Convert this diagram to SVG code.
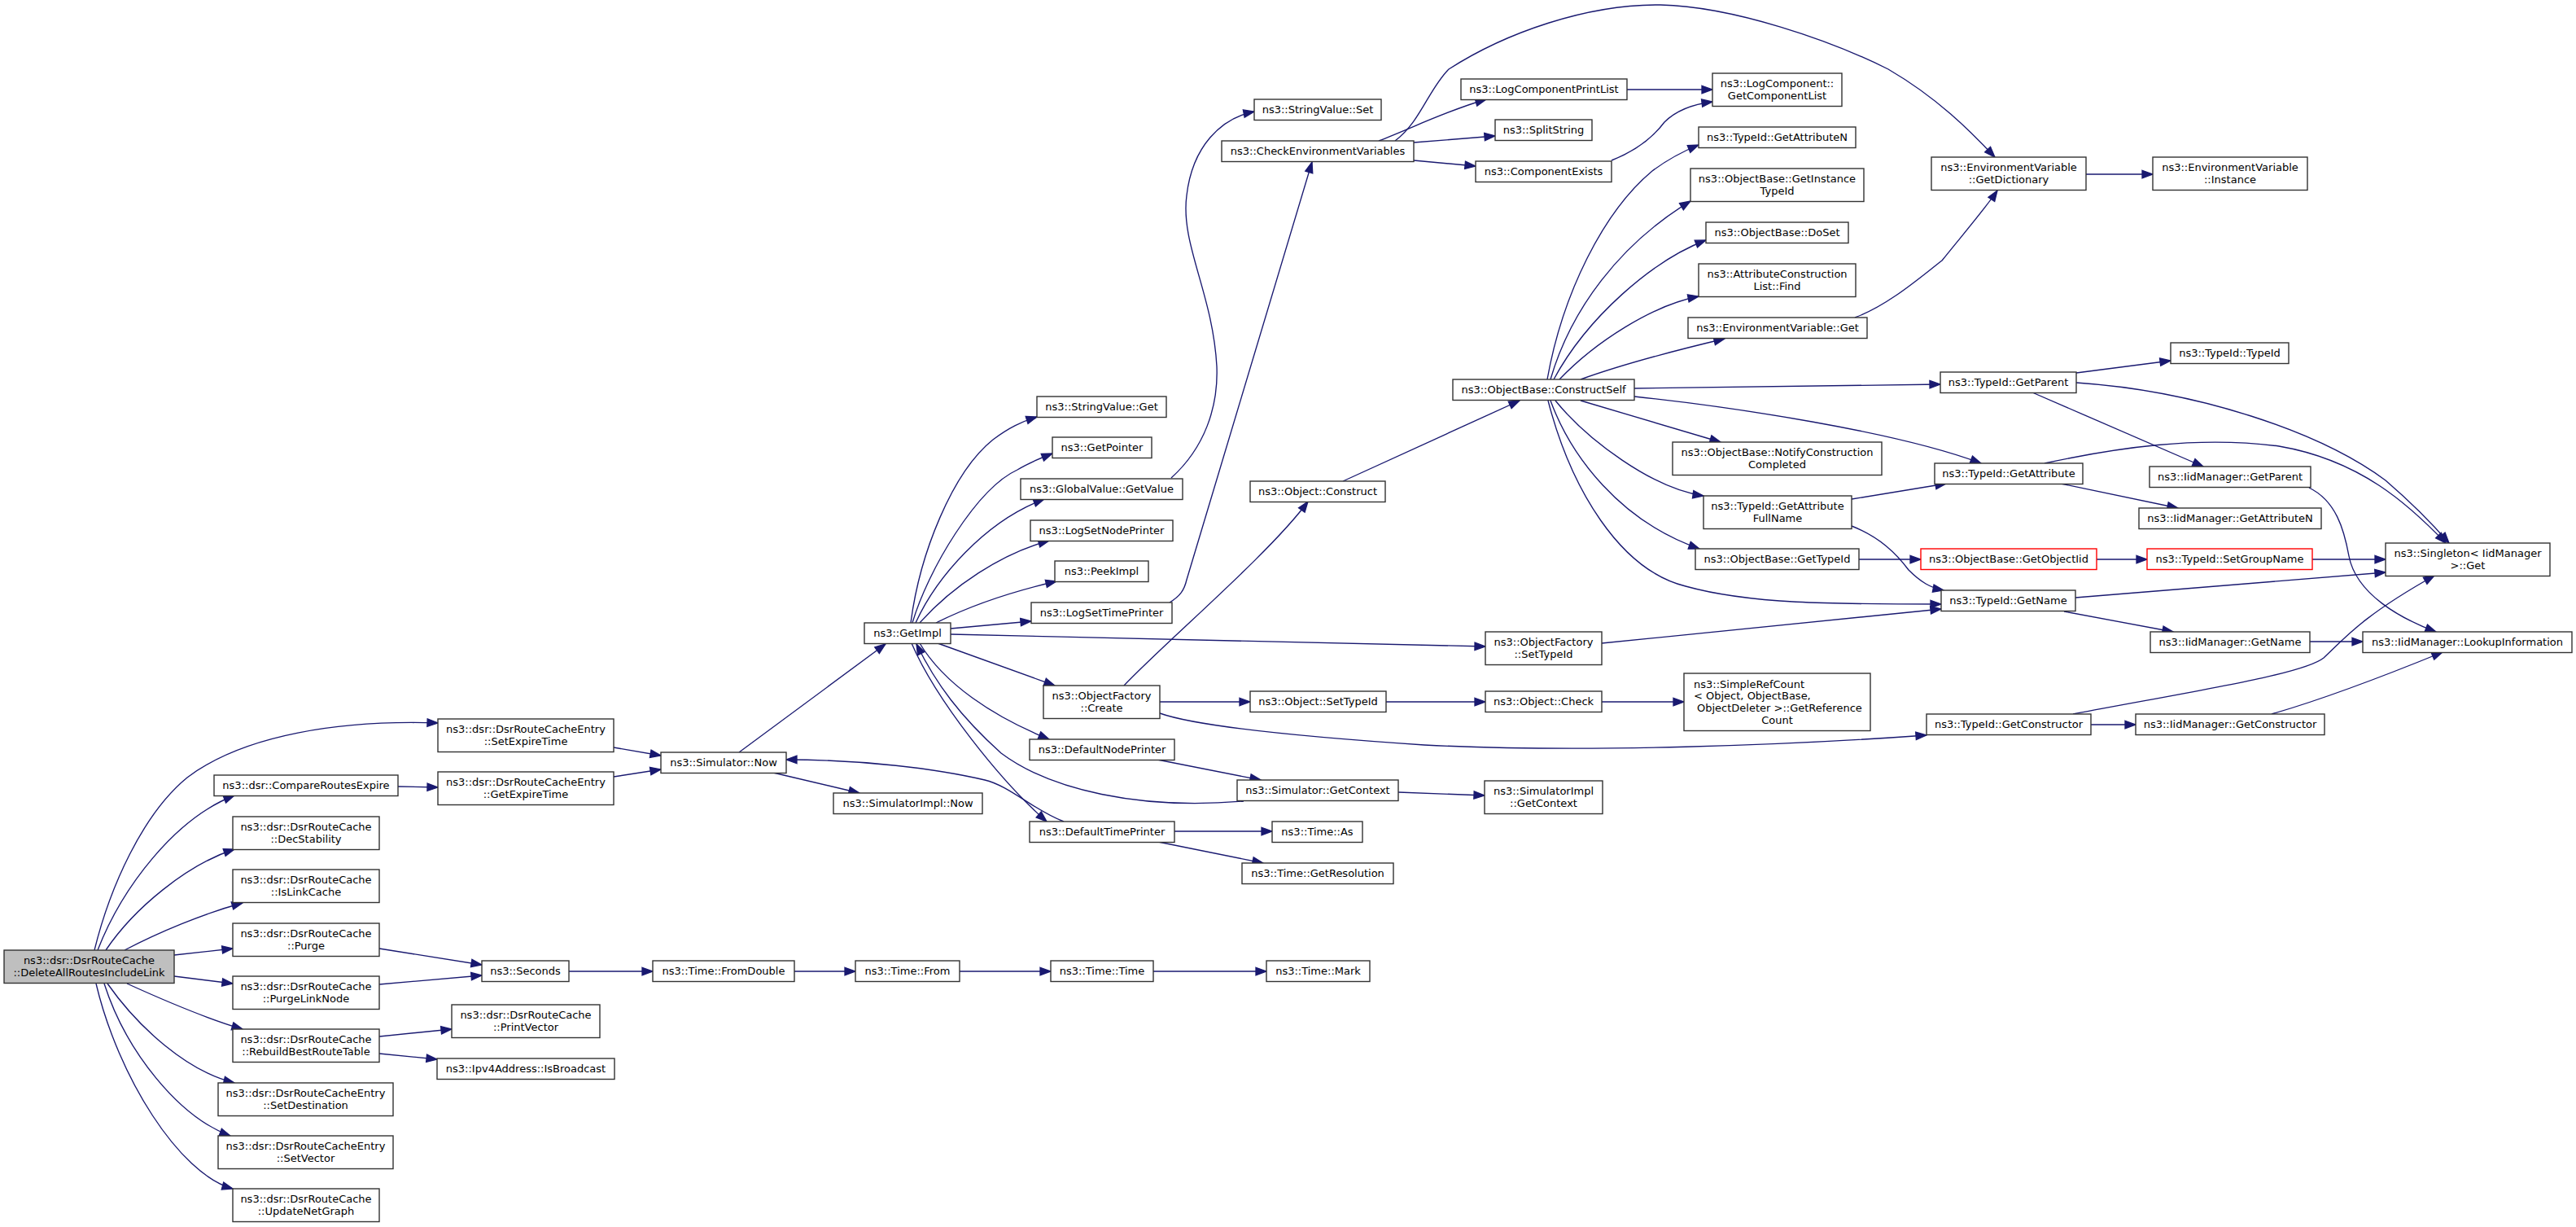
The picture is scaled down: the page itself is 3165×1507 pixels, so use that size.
<svg xmlns="http://www.w3.org/2000/svg" width="3165" height="1507" viewBox="0 0 3165 1507">
<style>
.n rect{fill:#ffffff;stroke:#333333;stroke-width:1.4}
.src rect{fill:#bfbfbf}
.red rect{stroke:#ff0000}
text{font-family:"DejaVu Sans","Liberation Sans",sans-serif;font-size:13px;fill:#000000;text-anchor:middle}
text.l{text-anchor:start}
#edges path{fill:none;stroke:#191970;stroke-width:1.35;marker-end:url(#arr)}
</style>
<defs>
<marker id="arr" markerUnits="userSpaceOnUse" markerWidth="16" markerHeight="12" viewBox="0 0 16 12" refX="14" refY="6" orient="auto" overflow="visible">
<path d="M1,1.3 L14,6 L1,10.7 z" fill="#191970" stroke="#191970" stroke-width="1.3"/>
</marker>
</defs>
<rect x="0" y="0" width="3165" height="1507" fill="#ffffff"/>
<g id="edges">
<path d="M116,1167 C135,1090 175,1000 230,955 C300,902 420,884 538,888"/>
<path d="M120,1167 C150,1090 215,1005 288,977"/>
<path d="M130,1167 C165,1115 230,1062 288,1043"/>
<path d="M153,1167 C195,1145 250,1122 298,1109"/>
<path d="M214,1173 L286,1165"/>
<path d="M214,1199 L286,1208"/>
<path d="M156,1208 C200,1228 250,1250 298,1264"/>
<path d="M132,1208 C170,1262 230,1316 288,1330"/>
<path d="M128,1208 C155,1292 220,1372 283,1395"/>
<path d="M118,1208 C145,1322 220,1442 286,1460"/>
<path d="M489,966 L538,967"/>
<path d="M754,918 L812,928"/>
<path d="M754,954 L812,945"/>
<path d="M466,1165 L592,1185"/>
<path d="M466,1209 L592,1198"/>
<path d="M466,1273 L555,1264"/>
<path d="M466,1294 L537,1301"/>
<path d="M699,1193 L802,1193"/>
<path d="M976,1193 L1051,1193"/>
<path d="M1179,1193 L1291,1193"/>
<path d="M1417,1193 L1556,1193"/>
<path d="M908,924 L1088,791"/>
<path d="M950,949 L1056,974"/>
<path d="M1307,1009 C1270,995 1240,965 1210,958 C1150,944 1060,933 966,933"/>
<path d="M1119,765 C1130,680 1170,580 1220,540 C1240,525 1255,518 1274,512"/>
<path d="M1121,765 C1140,700 1200,600 1250,577 C1265,568 1280,562 1293,557"/>
<path d="M1125,765 C1150,710 1210,640 1283,613"/>
<path d="M1130,765 C1170,720 1230,680 1289,664"/>
<path d="M1150,765 C1200,740 1250,725 1298,714"/>
<path d="M1168,772 L1267,763"/>
<path d="M1168,779 C1400,784 1650,792 1825,794"/>
<path d="M1152,790 L1296,842"/>
<path d="M1130,790 C1160,840 1220,880 1289,908"/>
<path d="M1120,790 C1150,860 1230,960 1286,1009"/>
<path d="M1528,984 C1400,995 1290,970 1230,925 C1180,880 1150,840 1126,791"/>
<path d="M1422,933 L1549,958"/>
<path d="M1443,1021 L1563,1021"/>
<path d="M1423,1034 L1552,1060"/>
<path d="M1425,862 L1536,862"/>
<path d="M1425,876 C1470,892 1600,905 1750,915 C1950,925 2200,915 2367,903"/>
<path d="M1381,842 C1430,790 1560,680 1607,616"/>
<path d="M1703,862 L1825,862"/>
<path d="M1968,862 L2069,862"/>
<path d="M1718,973 L1824,977"/>
<path d="M1650,591 L1867,492"/>
<path d="M1439,587 C1480,550 1497,500 1495,450 C1490,360 1450,300 1458,240 C1465,180 1500,145 1541,137"/>
<path d="M1437,740 C1450,732 1455,725 1458,712 L1612,199"/>
<path d="M1694,173 C1740,155 1780,135 1826,122"/>
<path d="M1737,175 L1837,167"/>
<path d="M1737,197 L1813,204"/>
<path d="M1714,173 C1745,150 1755,110 1780,85 C1850,40 1950,5 2040,6 C2130,8 2250,50 2320,85 C2380,120 2420,160 2451,193"/>
<path d="M1999,110 L2104,110"/>
<path d="M1980,197 C2010,185 2030,170 2045,150 C2060,135 2080,128 2104,125"/>
<path d="M1901,466 C1920,360 1970,260 2030,210 C2050,195 2070,185 2087,178"/>
<path d="M1905,466 C1930,380 1990,300 2077,247"/>
<path d="M1909,466 C1950,390 2030,320 2096,295"/>
<path d="M1916,466 C1960,420 2030,375 2087,364"/>
<path d="M1942,466 C2000,445 2060,430 2119,416"/>
<path d="M2279,390 C2320,375 2360,340 2386,320 C2410,290 2440,255 2454,234"/>
<path d="M2563,214 L2645,214"/>
<path d="M2008,477 L2384,472"/>
<path d="M2008,487 C2130,500 2330,530 2434,569"/>
<path d="M1942,492 L2114,543"/>
<path d="M1911,492 C1950,540 2030,600 2093,609"/>
<path d="M1905,492 C1930,560 1990,640 2088,674"/>
<path d="M1902,492 C1930,600 1990,700 2071,720 C2150,742 2250,742 2385,742"/>
<path d="M2275,613 L2391,594"/>
<path d="M2275,646 C2310,660 2330,680 2345,700 C2360,715 2372,722 2388,725"/>
<path d="M2284,687 L2360,687"/>
<path d="M1968,790 L2385,748"/>
<path d="M2551,458 L2667,443"/>
<path d="M2551,470 C2700,480 2850,530 2931,590 C2960,615 2990,645 3009,667"/>
<path d="M2497,482 L2707,573"/>
<path d="M2512,569 C2600,550 2700,535 2800,548 C2900,565 2960,620 3005,667"/>
<path d="M2532,594 L2676,624"/>
<path d="M2576,687 L2638,687"/>
<path d="M2841,687 L2931,687"/>
<path d="M2550,734 L2931,703"/>
<path d="M2536,751 L2670,776"/>
<path d="M2838,788 L2903,788"/>
<path d="M2837,599 C2870,615 2880,650 2886,683 C2895,730 2950,760 2993,776"/>
<path d="M2547,877 C2700,848 2830,828 2855,808 C2880,785 2900,758 2991,707"/>
<path d="M2569,890 L2624,890"/>
<path d="M2791,877 C2850,860 2930,830 3001,801"/>
</g>
<g id="n1" class="n src"><rect x="5" y="1167" width="209" height="40.5"/><text x="109.5" y="1184.4">ns3::dsr::DsrRouteCache</text><text x="109.5" y="1199.1">::DeleteAllRoutesIncludeLink</text></g>
<g id="n2" class="n"><rect x="538" y="883" width="216" height="40.5"/><text x="646" y="900.4">ns3::dsr::DsrRouteCacheEntry</text><text x="646" y="915.1">::SetExpireTime</text></g>
<g id="n3" class="n"><rect x="263" y="952" width="226" height="25.5"/><text x="376" y="969.3">ns3::dsr::CompareRoutesExpire</text></g>
<g id="n4" class="n"><rect x="538" y="948" width="216" height="40.5"/><text x="646" y="965.4">ns3::dsr::DsrRouteCacheEntry</text><text x="646" y="980.1">::GetExpireTime</text></g>
<g id="n5" class="n"><rect x="286" y="1003" width="180" height="40.5"/><text x="376" y="1020.4">ns3::dsr::DsrRouteCache</text><text x="376" y="1035.1">::DecStability</text></g>
<g id="n6" class="n"><rect x="286" y="1068" width="180" height="40.5"/><text x="376" y="1085.4">ns3::dsr::DsrRouteCache</text><text x="376" y="1100.1">::IsLinkCache</text></g>
<g id="n7" class="n"><rect x="286" y="1134" width="180" height="40.5"/><text x="376" y="1151.4">ns3::dsr::DsrRouteCache</text><text x="376" y="1166.1">::Purge</text></g>
<g id="n8" class="n"><rect x="286" y="1199" width="180" height="40.5"/><text x="376" y="1216.4">ns3::dsr::DsrRouteCache</text><text x="376" y="1231.1">::PurgeLinkNode</text></g>
<g id="n9" class="n"><rect x="286" y="1264" width="180" height="40.5"/><text x="376" y="1281.4">ns3::dsr::DsrRouteCache</text><text x="376" y="1296.1">::RebuildBestRouteTable</text></g>
<g id="n10" class="n"><rect x="268" y="1330" width="215" height="40.5"/><text x="375.5" y="1347.4">ns3::dsr::DsrRouteCacheEntry</text><text x="375.5" y="1362.1">::SetDestination</text></g>
<g id="n11" class="n"><rect x="268" y="1395" width="215" height="40.5"/><text x="375.5" y="1412.4">ns3::dsr::DsrRouteCacheEntry</text><text x="375.5" y="1427.1">::SetVector</text></g>
<g id="n12" class="n"><rect x="286" y="1460" width="180" height="40.5"/><text x="376" y="1477.4">ns3::dsr::DsrRouteCache</text><text x="376" y="1492.1">::UpdateNetGraph</text></g>
<g id="n13" class="n"><rect x="592" y="1180" width="107" height="25.5"/><text x="645.5" y="1197.3">ns3::Seconds</text></g>
<g id="n14" class="n"><rect x="555" y="1234" width="182" height="40.5"/><text x="646" y="1251.4">ns3::dsr::DsrRouteCache</text><text x="646" y="1266.1">::PrintVector</text></g>
<g id="n15" class="n"><rect x="537" y="1300" width="218" height="25.5"/><text x="646" y="1317.3">ns3::Ipv4Address::IsBroadcast</text></g>
<g id="n16" class="n"><rect x="812" y="924" width="154" height="25.5"/><text x="889" y="941.3">ns3::Simulator::Now</text></g>
<g id="n17" class="n"><rect x="1024" y="974" width="183" height="25.5"/><text x="1115.5" y="991.3">ns3::SimulatorImpl::Now</text></g>
<g id="n18" class="n"><rect x="802" y="1180" width="174" height="25.5"/><text x="889" y="1197.3">ns3::Time::FromDouble</text></g>
<g id="n19" class="n"><rect x="1051" y="1180" width="128" height="25.5"/><text x="1115" y="1197.3">ns3::Time::From</text></g>
<g id="n20" class="n"><rect x="1291" y="1180" width="126" height="25.5"/><text x="1354" y="1197.3">ns3::Time::Time</text></g>
<g id="n21" class="n"><rect x="1556" y="1180" width="127" height="25.5"/><text x="1619.5" y="1197.3">ns3::Time::Mark</text></g>
<g id="n22" class="n"><rect x="1062" y="765" width="106" height="25.5"/><text x="1115" y="782.3">ns3::GetImpl</text></g>
<g id="n23" class="n"><rect x="1274" y="487" width="159" height="25.5"/><text x="1353.5" y="504.3">ns3::StringValue::Get</text></g>
<g id="n24" class="n"><rect x="1293" y="537" width="122" height="25.5"/><text x="1354" y="554.3">ns3::GetPointer</text></g>
<g id="n25" class="n"><rect x="1254" y="588" width="199" height="25.5"/><text x="1353.5" y="605.3">ns3::GlobalValue::GetValue</text></g>
<g id="n26" class="n"><rect x="1266" y="639" width="175" height="25.5"/><text x="1353.5" y="656.3">ns3::LogSetNodePrinter</text></g>
<g id="n27" class="n"><rect x="1296" y="689" width="115" height="25.5"/><text x="1353.5" y="706.3">ns3::PeekImpl</text></g>
<g id="n28" class="n"><rect x="1267" y="740" width="173" height="25.5"/><text x="1353.5" y="757.3">ns3::LogSetTimePrinter</text></g>
<g id="n29" class="n"><rect x="1282" y="842" width="143" height="40.5"/><text x="1353.5" y="859.4">ns3::ObjectFactory</text><text x="1353.5" y="874.1">::Create</text></g>
<g id="n30" class="n"><rect x="1265" y="908" width="178" height="25.5"/><text x="1354" y="925.3">ns3::DefaultNodePrinter</text></g>
<g id="n31" class="n"><rect x="1265" y="1009" width="178" height="25.5"/><text x="1354" y="1026.3">ns3::DefaultTimePrinter</text></g>
<g id="n32" class="n"><rect x="1536" y="849" width="167" height="25.5"/><text x="1619.5" y="866.3">ns3::Object::SetTypeId</text></g>
<g id="n33" class="n"><rect x="1520" y="958" width="198" height="25.5"/><text x="1619" y="975.3">ns3::Simulator::GetContext</text></g>
<g id="n34" class="n"><rect x="1563" y="1009" width="111" height="25.5"/><text x="1618.5" y="1026.3">ns3::Time::As</text></g>
<g id="n35" class="n"><rect x="1526" y="1060" width="186" height="25.5"/><text x="1619" y="1077.3">ns3::Time::GetResolution</text></g>
<g id="n36" class="n"><rect x="1536" y="591" width="166" height="25.5"/><text x="1619" y="608.3">ns3::Object::Construct</text></g>
<g id="n37" class="n"><rect x="1541" y="122" width="156" height="25.5"/><text x="1619" y="139.3">ns3::StringValue::Set</text></g>
<g id="n38" class="n"><rect x="1501" y="173" width="236" height="25.5"/><text x="1619" y="190.3">ns3::CheckEnvironmentVariables</text></g>
<g id="n39" class="n"><rect x="1795" y="97" width="204" height="25.5"/><text x="1897" y="114.3">ns3::LogComponentPrintList</text></g>
<g id="n40" class="n"><rect x="1837" y="147" width="119" height="25.5"/><text x="1896.5" y="164.3">ns3::SplitString</text></g>
<g id="n41" class="n"><rect x="1813" y="198" width="167" height="25.5"/><text x="1896.5" y="215.3">ns3::ComponentExists</text></g>
<g id="n42" class="n"><rect x="2104" y="90" width="159" height="40.5"/><text x="2183.5" y="107.4">ns3::LogComponent::</text><text x="2183.5" y="122.1">GetComponentList</text></g>
<g id="n43" class="n"><rect x="2087" y="156" width="193" height="25.5"/><text x="2183.5" y="173.3">ns3::TypeId::GetAttributeN</text></g>
<g id="n44" class="n"><rect x="2077" y="207" width="213" height="40.5"/><text x="2183.5" y="224.4">ns3::ObjectBase::GetInstance</text><text x="2183.5" y="239.1">TypeId</text></g>
<g id="n45" class="n"><rect x="2096" y="273" width="175" height="25.5"/><text x="2183.5" y="290.3">ns3::ObjectBase::DoSet</text></g>
<g id="n46" class="n"><rect x="2087" y="324" width="193" height="40.5"/><text x="2183.5" y="341.4">ns3::AttributeConstruction</text><text x="2183.5" y="356.1">List::Find</text></g>
<g id="n47" class="n"><rect x="2074" y="390" width="220" height="25.5"/><text x="2184" y="407.3">ns3::EnvironmentVariable::Get</text></g>
<g id="n48" class="n"><rect x="2373" y="193" width="190" height="40.5"/><text x="2468" y="210.4">ns3::EnvironmentVariable</text><text x="2468" y="225.1">::GetDictionary</text></g>
<g id="n49" class="n"><rect x="2645" y="193" width="190" height="40.5"/><text x="2740" y="210.4">ns3::EnvironmentVariable</text><text x="2740" y="225.1">::Instance</text></g>
<g id="n50" class="n"><rect x="2667" y="421" width="145" height="25.5"/><text x="2739.5" y="438.3">ns3::TypeId::TypeId</text></g>
<g id="n51" class="n"><rect x="1785" y="466" width="223" height="25.5"/><text x="1896.5" y="483.3">ns3::ObjectBase::ConstructSelf</text></g>
<g id="n52" class="n"><rect x="2384" y="457" width="167" height="25.5"/><text x="2467.5" y="474.3">ns3::TypeId::GetParent</text></g>
<g id="n53" class="n"><rect x="2055" y="543" width="257" height="40.5"/><text x="2183.5" y="560.4">ns3::ObjectBase::NotifyConstruction</text><text x="2183.5" y="575.1">Completed</text></g>
<g id="n54" class="n"><rect x="2377" y="569" width="182" height="25.5"/><text x="2468" y="586.3">ns3::TypeId::GetAttribute</text></g>
<g id="n55" class="n"><rect x="2093" y="609" width="182" height="40.5"/><text x="2184" y="626.4">ns3::TypeId::GetAttribute</text><text x="2184" y="641.1">FullName</text></g>
<g id="n56" class="n"><rect x="2083" y="674" width="201" height="25.5"/><text x="2183.5" y="691.3">ns3::ObjectBase::GetTypeId</text></g>
<g id="n57" class="n red"><rect x="2360" y="674" width="216" height="25.5"/><text x="2468" y="691.3">ns3::ObjectBase::GetObjectIid</text></g>
<g id="n58" class="n"><rect x="2385" y="725" width="165" height="25.5"/><text x="2467.5" y="742.3">ns3::TypeId::GetName</text></g>
<g id="n59" class="n"><rect x="1825" y="776" width="143" height="40.5"/><text x="1896.5" y="793.4">ns3::ObjectFactory</text><text x="1896.5" y="808.1">::SetTypeId</text></g>
<g id="n60" class="n"><rect x="1825" y="849" width="143" height="25.5"/><text x="1896.5" y="866.3">ns3::Object::Check</text></g>
<g id="n61" class="n"><rect x="2069" y="827" width="229" height="70.5"/><text class="l" x="2081" y="844.7">ns3::SimpleRefCount</text><text class="l" x="2081" y="859.4">&lt; Object, ObjectBase,</text><text class="l" x="2085" y="874.1">ObjectDeleter &gt;::GetReference</text><text x="2183.5" y="888.8">Count</text></g>
<g id="n62" class="n"><rect x="2367" y="877" width="202" height="25.5"/><text x="2468" y="894.3">ns3::TypeId::GetConstructor</text></g>
<g id="n63" class="n"><rect x="1824" y="959" width="145" height="40.5"/><text x="1896.5" y="976.4">ns3::SimulatorImpl</text><text x="1896.5" y="991.1">::GetContext</text></g>
<g id="n64" class="n"><rect x="2641" y="573" width="198" height="25.5"/><text x="2740" y="590.3">ns3::IidManager::GetParent</text></g>
<g id="n65" class="n"><rect x="2628" y="624" width="224" height="25.5"/><text x="2740" y="641.3">ns3::IidManager::GetAttributeN</text></g>
<g id="n66" class="n red"><rect x="2638" y="674" width="203" height="25.5"/><text x="2739.5" y="691.3">ns3::TypeId::SetGroupName</text></g>
<g id="n67" class="n"><rect x="2931" y="667" width="202" height="40.5"/><text x="3032" y="684.4">ns3::Singleton&lt; IidManager</text><text x="3032" y="699.1"> &gt;::Get</text></g>
<g id="n68" class="n"><rect x="2642" y="776" width="196" height="25.5"/><text x="2740" y="793.3">ns3::IidManager::GetName</text></g>
<g id="n69" class="n"><rect x="2903" y="776" width="257" height="25.5"/><text x="3031.5" y="793.3">ns3::IidManager::LookupInformation</text></g>
<g id="n70" class="n"><rect x="2624" y="877" width="232" height="25.5"/><text x="2740" y="894.3">ns3::IidManager::GetConstructor</text></g>
</svg>
